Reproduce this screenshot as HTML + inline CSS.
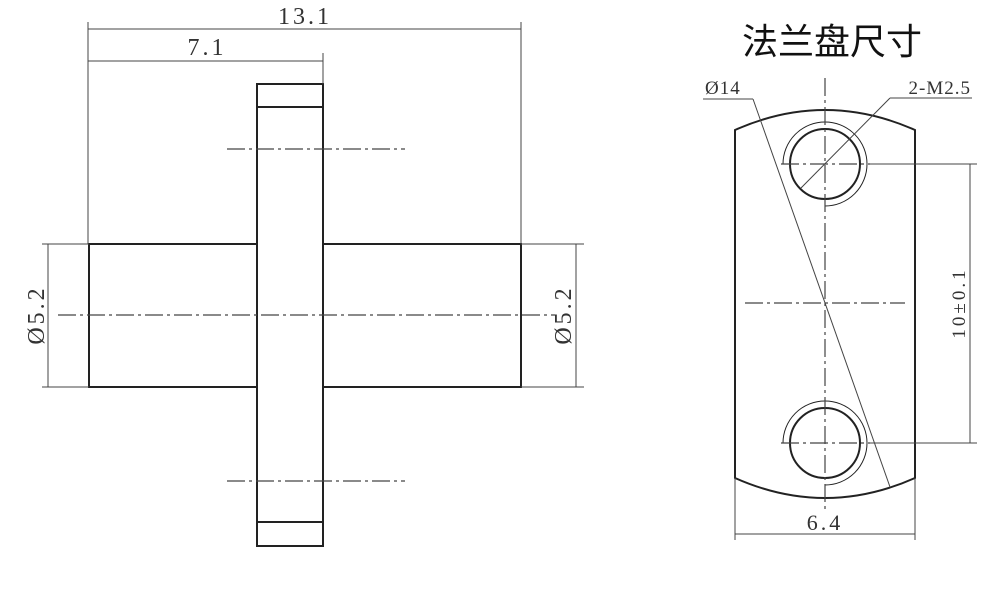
<!DOCTYPE html>
<html><head><meta charset="utf-8"><style>
html,body{margin:0;padding:0;background:#fff}
svg{display:block}
.t{font-family:"Liberation Serif","DejaVu Serif",serif;fill:#333;letter-spacing:3px}
</style></head><body>
<svg width="1000" height="595" viewBox="0 0 1000 595" xmlns="http://www.w3.org/2000/svg">
<g fill="none" stroke="#222">
<g stroke-width="2">
<rect x="89" y="244" width="432" height="143"/>
<rect x="257" y="84" width="66" height="462" fill="#fff"/>
<line x1="257" y1="107" x2="323" y2="107"/>
<line x1="257" y1="522" x2="323" y2="522"/>
</g>
<g stroke-width="1" stroke="#444">
<line x1="88" y1="22" x2="88" y2="244"/>
<line x1="521" y1="22" x2="521" y2="244"/>
<line x1="323" y1="53" x2="323" y2="84"/>
<line x1="88" y1="29" x2="521" y2="29"/>
<line x1="88" y1="61" x2="323" y2="61"/>
<line x1="42" y1="244" x2="89" y2="244"/>
<line x1="42" y1="387" x2="89" y2="387"/>
<line x1="48" y1="244" x2="48" y2="387"/>
<line x1="521" y1="244" x2="584" y2="244"/>
<line x1="521" y1="387" x2="584" y2="387"/>
<line x1="576" y1="244" x2="576" y2="387"/>
</g>
<g stroke-width="1.2" stroke="#444" stroke-dasharray="18,4,3,4">
<line x1="58" y1="315" x2="555" y2="315"/>
<line x1="227" y1="149" x2="405" y2="149"/>
<line x1="227" y1="481" x2="405" y2="481"/>
</g>
<path d="M735 130 Q825 90 915 130 L915 478 Q825 518 735 478 Z" stroke-width="2"/>
<circle cx="825" cy="164" r="35" stroke-width="2"/>
<circle cx="825" cy="443" r="35" stroke-width="2"/>
<path d="M783 164 A42 42 0 1 1 825 206" stroke-width="1"/>
<path d="M783 443 A42 42 0 1 1 825 485" stroke-width="1"/>
<g stroke-width="1" stroke="#444">
<line x1="703" y1="99" x2="753" y2="99"/>
<line x1="753" y1="99" x2="890" y2="487"/>
<line x1="890" y1="98" x2="972" y2="98"/>
<line x1="890" y1="98" x2="801" y2="188"/>
<line x1="870" y1="164" x2="977" y2="164"/>
<line x1="870" y1="443" x2="977" y2="443"/>
<line x1="970" y1="164" x2="970" y2="443"/>
<line x1="735" y1="478" x2="735" y2="540"/>
<line x1="915" y1="478" x2="915" y2="540"/>
<line x1="735" y1="534" x2="915" y2="534"/>
</g>
<g stroke-width="1.2" stroke="#444" stroke-dasharray="18,4,3,4">
<line x1="825" y1="78" x2="825" y2="512"/>
<line x1="781" y1="164" x2="870" y2="164"/>
<line x1="781" y1="443" x2="870" y2="443"/>
<line x1="745" y1="303" x2="905" y2="303"/>
</g>
</g>
<text class="t" x="305" y="24" font-size="24" text-anchor="middle">13.1</text>
<text class="t" x="207" y="55" font-size="24" text-anchor="middle">7.1</text>
<text class="t" font-size="24" text-anchor="middle" transform="translate(44,315) rotate(-90)">Ø5.2</text>
<text class="t" font-size="24" text-anchor="middle" transform="translate(571,315) rotate(-90)">Ø5.2</text>
<text x="832" y="54" font-size="36" text-anchor="middle" fill="#111" font-family="'Noto Sans CJK SC','WenQuanYi Zen Hei',sans-serif">法兰盘尺寸</text>
<text class="t" x="705" y="94" font-size="19" style="letter-spacing:1px">Ø14</text>
<text class="t" x="971" y="94" font-size="19" text-anchor="end" style="letter-spacing:1px">2-M2.5</text>
<text class="t" font-size="19" text-anchor="middle" transform="translate(965,303) rotate(-90)">10±0.1</text>
<text class="t" x="825" y="530" font-size="22" text-anchor="middle">6.4</text>
</svg>
</body></html>
